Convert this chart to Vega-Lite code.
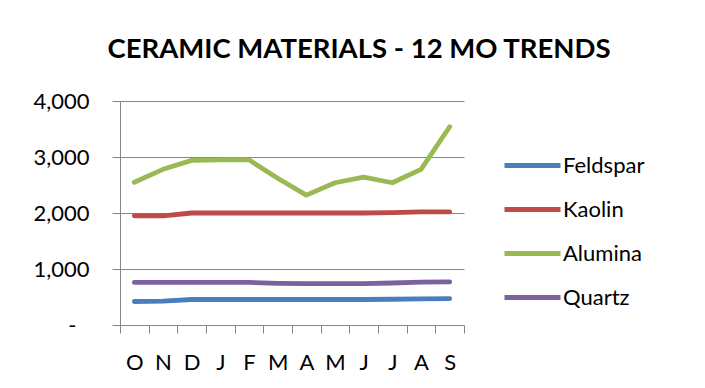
{
  "$schema": "https://vega.github.io/schema/vega-lite/v6.json",
  "width": 344,
  "height": 224,
  "autosize": {"type": "none"},
  "padding": {"left": 120, "top": 101, "right": 241, "bottom": 63},
  "background": "white",
  "title": {
    "text": "CERAMIC MATERIALS - 12 MO TRENDS",
    "font": "Lato",
    "fontSize": 27.5,
    "fontWeight": "bold",
    "color": "black",
    "anchor": "middle",
    "frame": "group",
    "baseline": "alphabetic",
    "offset": 5,
    "dx": 67
  },
  "data": {
    "values": [
      {"month": "Oct", "material": "Feldspar", "value": 420},
      {"month": "Nov", "material": "Feldspar", "value": 425},
      {"month": "Dec", "material": "Feldspar", "value": 455},
      {"month": "Jan", "material": "Feldspar", "value": 455},
      {"month": "Feb", "material": "Feldspar", "value": 455},
      {"month": "Mar", "material": "Feldspar", "value": 455},
      {"month": "Apr", "material": "Feldspar", "value": 455},
      {"month": "May", "material": "Feldspar", "value": 455},
      {"month": "Jun", "material": "Feldspar", "value": 455},
      {"month": "Jul", "material": "Feldspar", "value": 460},
      {"month": "Aug", "material": "Feldspar", "value": 465},
      {"month": "Sep", "material": "Feldspar", "value": 470},
      {"month": "Oct", "material": "Kaolin", "value": 1950},
      {"month": "Nov", "material": "Kaolin", "value": 1950},
      {"month": "Dec", "material": "Kaolin", "value": 2000},
      {"month": "Jan", "material": "Kaolin", "value": 2000},
      {"month": "Feb", "material": "Kaolin", "value": 2000},
      {"month": "Mar", "material": "Kaolin", "value": 2000},
      {"month": "Apr", "material": "Kaolin", "value": 2000},
      {"month": "May", "material": "Kaolin", "value": 2000},
      {"month": "Jun", "material": "Kaolin", "value": 2000},
      {"month": "Jul", "material": "Kaolin", "value": 2005},
      {"month": "Aug", "material": "Kaolin", "value": 2020},
      {"month": "Sep", "material": "Kaolin", "value": 2020},
      {"month": "Oct", "material": "Alumina", "value": 2550},
      {"month": "Nov", "material": "Alumina", "value": 2780},
      {"month": "Dec", "material": "Alumina", "value": 2940},
      {"month": "Jan", "material": "Alumina", "value": 2950},
      {"month": "Feb", "material": "Alumina", "value": 2950},
      {"month": "Mar", "material": "Alumina", "value": 2620},
      {"month": "Apr", "material": "Alumina", "value": 2320},
      {"month": "May", "material": "Alumina", "value": 2540},
      {"month": "Jun", "material": "Alumina", "value": 2640},
      {"month": "Jul", "material": "Alumina", "value": 2540},
      {"month": "Aug", "material": "Alumina", "value": 2780},
      {"month": "Sep", "material": "Alumina", "value": 3540},
      {"month": "Oct", "material": "Quartz", "value": 760},
      {"month": "Nov", "material": "Quartz", "value": 760},
      {"month": "Dec", "material": "Quartz", "value": 760},
      {"month": "Jan", "material": "Quartz", "value": 760},
      {"month": "Feb", "material": "Quartz", "value": 760},
      {"month": "Mar", "material": "Quartz", "value": 745},
      {"month": "Apr", "material": "Quartz", "value": 740},
      {"month": "May", "material": "Quartz", "value": 740},
      {"month": "Jun", "material": "Quartz", "value": 740},
      {"month": "Jul", "material": "Quartz", "value": 750},
      {"month": "Aug", "material": "Quartz", "value": 765},
      {"month": "Sep", "material": "Quartz", "value": 770}
    ]
  },
  "mark": {"type": "line", "strokeWidth": 4.8, "strokeCap": "round", "strokeJoin": "round"},
  "encoding": {
    "x": {
      "field": "month",
      "type": "ordinal",
      "sort": ["Oct", "Nov", "Dec", "Jan", "Feb", "Mar", "Apr", "May", "Jun", "Jul", "Aug", "Sep"],
      "scale": {"type": "band", "paddingInner": 0, "paddingOuter": 0},
      "axis": {
        "title": null,
        "labelAngle": 0,
        "labelExpr": "substring(datum.label, 0, 1)",
        "labelFont": "Lato",
        "labelFontSize": 22,
        "labelColor": "black",
        "labelBaseline": "alphabetic",
        "labelPadding": 36,
        "tickBand": "extent",
        "tickSize": 8,
        "tickColor": "#868686",
        "domainColor": "#868686",
        "grid": false
      }
    },
    "y": {
      "field": "value",
      "type": "quantitative",
      "scale": {"domain": [0, 4000], "nice": false},
      "axis": {
        "title": null,
        "values": [0, 1000, 2000, 3000, 4000],
        "labelExpr": "datum.value == 0 ? '-' : format(datum.value, ',')",
        "labelFont": "Lato",
        "labelFontSize": 22,
        "labelColor": "black",
        "labelPadding": {"condition": {"test": "datum.value == 0", "value": 36}, "value": 23},
        "tickSize": 8,
        "tickColor": "#868686",
        "domainColor": "#868686",
        "grid": true,
        "gridColor": "#868686",
        "gridOpacity": 1
      }
    },
    "color": {
      "field": "material",
      "type": "nominal",
      "sort": ["Feldspar", "Kaolin", "Alumina", "Quartz"],
      "scale": {
        "domain": ["Feldspar", "Kaolin", "Alumina", "Quartz"],
        "range": ["#4A7EBB", "#BE4B48", "#98B954", "#7D60A0"]
      },
      "legend": {
        "title": null,
        "orient": "none",
        "legendX": 382,
        "legendY": 48,
        "symbolType": "M-1,0H3",
        "symbolSize": 784,
        "symbolStrokeWidth": 4.8,
        "labelOffset": 28,
        "labelFont": "Lato",
        "labelFontSize": 22,
        "labelColor": "black",
        "rowPadding": 16
      }
    }
  },
  "config": {"view": {"stroke": null}}
}
